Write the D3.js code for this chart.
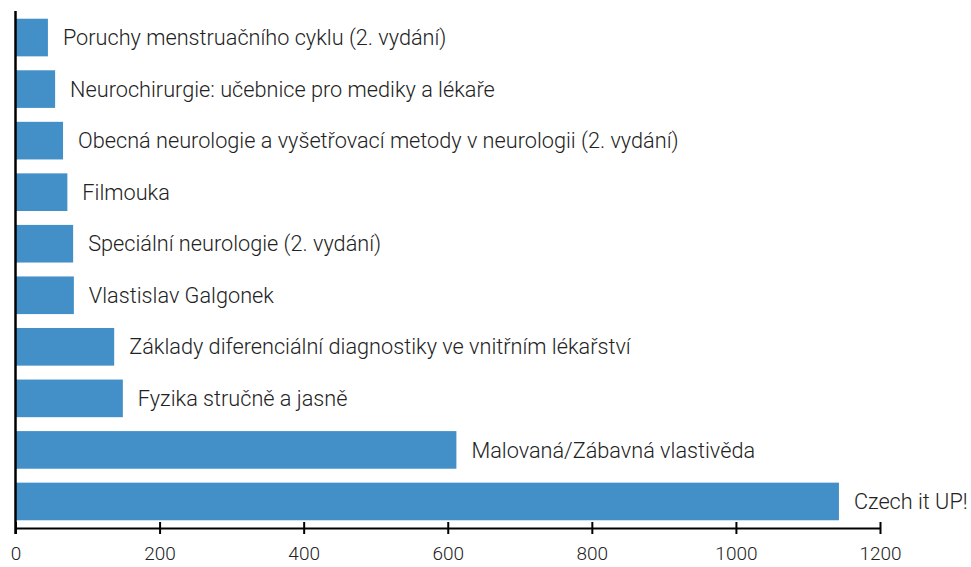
<!DOCTYPE html>
<html>
<head>
<meta charset="utf-8">
<script src="https://cdn.jsdelivr.net/npm/d3@7"></script>
<style>
  body { margin: 0; background: #fff; }
  text { font-family: Roboto, sans-serif; fill: #222; }
</style>
</head>
<body>
<div id="chart"></div>
<script>
// Data
var titles = [
  "Poruchy menstruačního cyklu (2. vydání)",
  "Neurochirurgie: učebnice pro mediky a lékaře",
  "Obecná neurologie a vyšetřovací metody v neurologii (2. vydání)",
  "Filmouka",
  "Speciální neurologie (2. vydání)",
  "Vlastislav Galgonek",
  "Základy diferenciální diagnostiky ve vnitřním lékařství",
  "Fyzika stručně a jasně",
  "Malovaná/Zábavná vlastivěda",
  "Czech it UP!"
];
var counts = [45, 55, 66, 72, 80, 81, 137, 149, 612, 1143];
var xTicks = [0, 200, 400, 600, 800, 1000, 1200];

var W = 971, H = 567;
var margin = {top: 11, left: 15.5, bottom: 39};
var plotBottom = H - margin.bottom;

var svg = d3.select('#chart').append('svg')
  .attr('width', W)
  .attr('height', H);

var x = d3.scaleLinear().domain([0, 1200]).range([margin.left, 880]);
var y = d3.scaleBand().domain(titles).range([margin.top, plotBottom])
  .paddingInner(0.27).paddingOuter(0.15);

// bars
svg.selectAll('.bar')
  .data(titles)
  .enter().append('rect')
    .attr('class', 'bar')
    .attr('x', x(0))
    .attr('y', function(d) { return y(d); })
    .attr('width', function(d, i) { return x(counts[i]) - x(0); })
    .attr('height', y.bandwidth())
    .attr('fill', '#4290c7');

// labels next to bars
svg.selectAll('.lbl')
  .data(titles)
  .enter().append('text')
    .attr('class', 'lbl')
    .attr('x', function(d, i) { return x(counts[i]) + 15; })
    .attr('y', function(d) { return y(d) + y.bandwidth() / 2; })
    .attr('dy', '0.35em')
    .style('font-size', '21.7px')
    .style('font-weight', 300)
    .text(function(d) { return d; });

// x axis
var xAxis = d3.axisBottom(x).tickValues(xTicks).tickFormat(d3.format('d'))
  .tickSize(6).tickSizeOuter(0).tickPadding(13);
var gx = svg.append('g')
  .attr('transform', 'translate(0,' + plotBottom + ')')
  .call(xAxis);
gx.select('.domain').attr('stroke', '#000').attr('stroke-width', 2);
gx.selectAll('.tick line').attr('stroke', '#000').attr('stroke-width', 2).attr('y1', -6);
gx.selectAll('.tick text').style('font-size', '19px').style('font-weight', 300)
  .style('font-family', 'Roboto, sans-serif').attr('fill', '#222');

// y axis line only
svg.append('line')
  .attr('x1', x(0)).attr('x2', x(0))
  .attr('y1', margin.top).attr('y2', plotBottom + 6)
  .attr('stroke', '#000').attr('stroke-width', 2.5);
</script>
</body>
</html>
